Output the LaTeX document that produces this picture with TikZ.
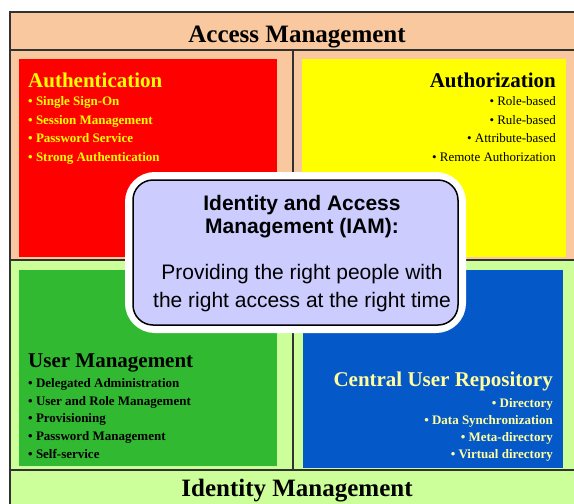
\documentclass[tikz,border=0pt]{standalone}
\usepackage{fontspec}
\setmainfont{Liberation Serif}
\newfontfamily\iamfont{Liberation Sans}
\usetikzlibrary{positioning}

\definecolor{peach}{RGB}{250,200,158}
\definecolor{palegreen}{RGB}{204,255,153}
\definecolor{authred}{RGB}{255,0,0}
\definecolor{authyellow}{RGB}{255,255,0}
\definecolor{umgreen}{RGB}{50,185,50}
\definecolor{repoblue}{RGB}{5,88,200}
\definecolor{repotext}{RGB}{255,255,160}
\definecolor{iamlilac}{RGB}{204,204,255}
\definecolor{framegray}{RGB}{50,50,50}

\def\lh{18.5}

\begin{document}
\begin{tikzpicture}[x=1pt,y=-1pt,
    panel/.style={anchor=north west,inner sep=0pt,outer sep=0pt},
    boxhead/.style={font=\fontsize{21}{23}\selectfont\bfseries,inner sep=0pt},
    boxitem/.style={font=\fontsize{13}{15}\selectfont\bfseries,inner sep=0pt},
    bandtext/.style={font=\fontsize{25}{27}\selectfont\bfseries,inner sep=0pt},
    iamhead/.style={font=\iamfont\fontsize{21}{23}\selectfont\bfseries,inner sep=0pt},
    iambody/.style={font=\iamfont\fontsize{21}{23}\selectfont,inner sep=0pt},
    divider/.style={draw=framegray,line width=1.2pt}]

    \useasboundingbox (0,0) rectangle (574,504);
    \fill[white] (0,0) rectangle (574,504);
    \fill[peach] (10,12) rectangle (574,260);
    \fill[palegreen] (10,260) rectangle (574,504);

    % frame lines
    \path[divider] (10,504) -- (10,12) -- (574,12);
    \path[divider] (10,50) -- (574,50);
    \path[divider] (10,260) -- (574,260);
    \path[divider] (10,470) -- (574,470);
    \path[divider] (293,50) -- (293,470);

    \node[bandtext,anchor=base] (accessband) at (297,42) {Access Management};
    \node[bandtext,anchor=base] (identband) at (297,496) {Identity Management};

    % the four panels
    \node[panel,fill=authred,minimum width=258pt,minimum height=198pt] (authn) at (19,59) {};
    \node[panel,fill=authyellow,minimum width=264pt,minimum height=198pt] (authz) at (302,59) {};
    \node[panel,fill=umgreen,minimum width=258pt,minimum height=196pt] (usermgmt) at (19,270) {};
    \node[panel,fill=repoblue,minimum width=260pt,minimum height=198pt] (repo) at (303,270) {};

    \node[boxhead,text=authyellow,anchor=base west] (authnhd) at (28,87) {Authentication};
    \foreach \txt [count=\i] in {Single Sign-On,Session Management,Password Service,Strong Authentication}
      \node[boxitem,text=authyellow,anchor=base west] (authn-\i) at (28,87+\lh*\i) {\textbullet\ \txt};

    \node[boxhead,anchor=base east] (authzhd) at (556,87) {Authorization};
    \foreach \txt [count=\i] in {Role-based,Rule-based,Attribute-based,Remote Authorization}
      \node[boxitem,font=\fontsize{13}{15}\selectfont,anchor=base east] (authz-\i) at (556,87+\lh*\i) {\textbullet\ \txt};

    \node[boxhead,anchor=base west] (umhd) at (28,367) {User Management};
    \foreach \txt [count=\i] in {Delegated Administration,User and Role Management,Provisioning,Password Management,Self-service}
      \node[boxitem,anchor=base west] (um-\i) at (28,370+17.6*\i) {\textbullet\ \txt};

    \node[boxhead,text=repotext,anchor=base east] (repohd) at (553,386) {Central User Repository};
    \foreach \txt [count=\i] in {Directory,Data Synchronization,Meta-directory,Virtual directory}
      \node[boxitem,text=repotext,anchor=base east] (repo-\i) at (553,390+17*\i) {\textbullet\ \txt};

    % IAM box in the middle
    \node[draw=white,line width=16pt,rounded corners=22pt,minimum width=325pt,minimum height=145pt] (iamhalo) at (295.5,252.5) {};
    \node[fill=iamlilac,draw=black,line width=1.5pt,rounded corners=20pt,minimum width=325pt,minimum height=145pt] (iam) at (295.5,252.5) {};
    \node[iamhead,anchor=base] (iamhd1) at (302,210) {Identity and Access};
    \node[iamhead,anchor=base] (iamhd2) at (302,233) {Management (IAM):};
    \node[iambody,anchor=base] (iamtxt1) at (302,279) {Providing the right people with};
    \node[iambody,anchor=base] (iamtxt2) at (302,307) {the right access at the right time};

\end{tikzpicture}
\end{document}
